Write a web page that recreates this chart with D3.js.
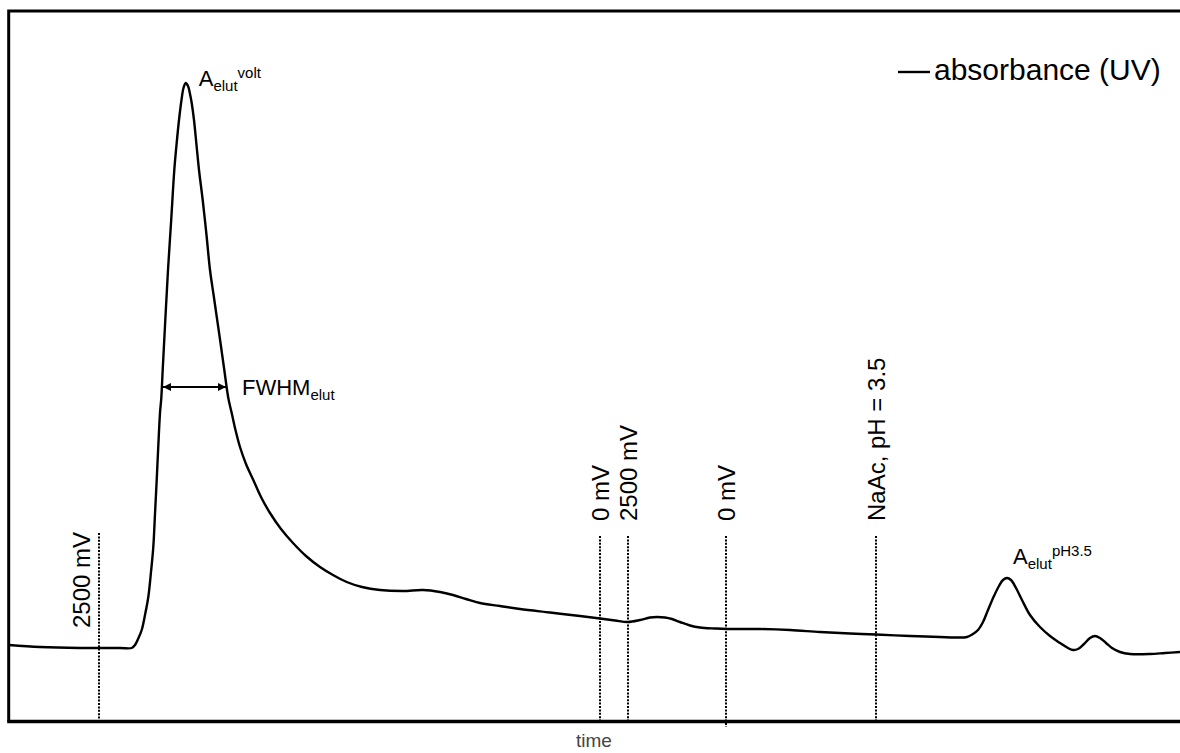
<!DOCTYPE html>
<html>
<head>
<meta charset="utf-8">
<script src="https://cdn.jsdelivr.net/npm/d3@7"></script>
<style>
  html, body { margin: 0; padding: 0; background: #fff; }
  svg { display: block; }
  text { font-family: "Liberation Sans", Arial, sans-serif; fill: #000; }
</style>
</head>
<body>
<svg id="chart" width="1180" height="753"></svg>
<script>
// ---- data (arbitrary time units / absorbance units) ----
const time = [0,31,71,111,122.7,126,129.5,132.7,136,139.3,142,144.3,146,147.7,149.3,151,152.3,153.7,156.3,159,162.2,165.3,167.5,170,172.5,174.5,176.7,
  179,181,182.7,185,187.5,190,193.7,197.5,201,204.6,208.2,211.8,215.3,219.3,222.7,226.5,231,237,244.3,252,261,272,284,297,311,324,337.7,353,371,394,414,431,444,457,471,491,511,541,571,591,606,619,631,641,648,656,663,671,681,691,706,718,751,781,811,841,867,901,931,946,958,964,969,974,979,985,990,994,998,1002,1007,1013,1021,1031,1041,1051,1059,1064,1069,1075,1081,1086,1091,1097,1103,1111,1121,1141,1156,1171];
const absorbance = [3,1,0,0,0,3,10,18,33,51,76,101,134,168,202,235,250,278,328,378,428,478,503,528,548,560,565,
  562,554,545,528,503,478,448,413,378,353,328,303,278,250,235,218,201,184,168,151,135,119,105,92,81,73,66,61,58,57,58,56,53,49,45,42,39,35.5,32,29.5,27.5,26,28,30.5,31,30.5,29,26,22.5,20.5,19.5,19,19,18,16,14.5,13.5,12,11,10.5,11,14,18,26,38,52,62,68,70,68,60,48,33,21,12,5,0,-2,-1,4,10,12,10,5,0,-4,-6,-6,-5,-4];

const eventTimes  = [90, 591, 619, 717, 867];
const eventLabels = ["2500 mV", "0 mV", "2500 mV", "0 mV", "NaAc, pH = 3.5"];

const legendLabel = "absorbance (UV)";
const axisLabel = "time";

// peak annotations (data coordinates)
const peakElut  = { t: 176.7, a: 565 };
const peakPH    = { t: 998,   a: 70 };
const fwhm      = { a: 261, t0: 154, t1: 217 };

// ---- layout ----
const W = 1180, H = 753;
const plotLeft = 8.7, plotTop = 11, plotBottom = 721.5;

const svg = d3.select("#chart");

const x = d3.scaleLinear().domain([0, 1171]).range([9, 1180]);
const y = d3.scaleLinear().domain([-10, 575]).range([658, 73]);

// arrow markers
const defs = svg.append("defs");
defs.append("marker").attr("id", "arrEnd")
  .attr("viewBox", "0 0 10 10").attr("refX", 10).attr("refY", 5)
  .attr("markerWidth", 9).attr("markerHeight", 8).attr("markerUnits", "userSpaceOnUse")
  .attr("orient", "auto")
  .append("path").attr("d", "M0,0 L10,5 L0,10 Z").attr("fill", "#000");
defs.append("marker").attr("id", "arrStart")
  .attr("viewBox", "0 0 10 10").attr("refX", 0).attr("refY", 5)
  .attr("markerWidth", 9).attr("markerHeight", 8).attr("markerUnits", "userSpaceOnUse")
  .attr("orient", "auto")
  .append("path").attr("d", "M10,0 L0,5 L10,10 Z").attr("fill", "#000");

// event dotted lines
const ev = svg.append("g");
eventTimes.forEach((t, i) => {
  ev.append("line")
    .attr("x1", x(t)).attr("x2", x(t))
    .attr("y1", i === 0 ? 533 : 536).attr("y2", i === 3 ? 727 : plotBottom)
    .attr("stroke", "#000").attr("stroke-width", 2).attr("stroke-dasharray", "2,1.4");
  const left = i === 0;
  ev.append("text")
    .attr("transform", left
      ? `translate(${x(t) - 9},532) rotate(-90)`
      : `translate(${x(t) + 9},521) rotate(-90)`)
    .attr("text-anchor", left ? "end" : "start")
    .attr("font-size", 24)
    .text(eventLabels[i]);
});

// curve
const data = time.map((t, i) => ({ t, a: absorbance[i] }));
const line = d3.line().x(d => x(d.t)).y(d => y(d.a)).curve(d3.curveCatmullRom.alpha(0.5));
svg.append("path").datum(data)
  .attr("d", line)
  .attr("fill", "none").attr("stroke", "#000").attr("stroke-width", 2.4)
  .attr("stroke-linejoin", "round");

// frame: left and top
svg.append("path")
  .attr("d", `M${W},${plotTop} H${plotLeft} V${plotBottom}`)
  .attr("fill", "none").attr("stroke", "#000").attr("stroke-width", 3);

// bottom axis (no ticks)
const xAxis = d3.axisBottom(x).tickValues([]).tickSizeOuter(0);
const gx = svg.append("g").attr("transform", `translate(0,${plotBottom})`).call(xAxis);
gx.select(".domain").attr("stroke", "#000").attr("stroke-width", 3.6)
  .attr("d", `M${plotLeft - 1.5},0H${W}`);

svg.append("text")
  .attr("x", 594).attr("y", 747)
  .attr("text-anchor", "middle").attr("font-size", 19)
  .style("fill", "#444")
  .text(axisLabel);

// legend
svg.append("line").attr("x1", 898).attr("x2", 930).attr("y1", 72).attr("y2", 72)
  .attr("stroke", "#000").attr("stroke-width", 2.4);
svg.append("text").attr("x", 934).attr("y", 80).attr("font-size", 30).text(legendLabel);

// peak labels
function peakLabel(px, py, sup) {
  const t = svg.append("text").attr("x", px).attr("y", py);
  t.append("tspan").attr("font-size", 22).text("A");
  t.append("tspan").attr("font-size", 15).attr("dy", 5).text("elut");
  t.append("tspan").attr("font-size", 15).attr("dy", -13).text(sup);
}
peakLabel(x(peakElut.t) + 13, y(peakElut.a) + 3, "volt");
peakLabel(x(peakPH.t) + 6, y(peakPH.a) - 14, "pH3.5");

// FWHM arrow
svg.append("line")
  .attr("x1", x(fwhm.t0)).attr("x2", x(fwhm.t1))
  .attr("y1", y(fwhm.a)).attr("y2", y(fwhm.a))
  .attr("stroke", "#000").attr("stroke-width", 2)
  .attr("marker-start", "url(#arrStart)").attr("marker-end", "url(#arrEnd)");
const ft = svg.append("text").attr("x", x(fwhm.t1) + 16).attr("y", y(fwhm.a) + 8);
ft.append("tspan").attr("font-size", 22).text("FWHM");
ft.append("tspan").attr("font-size", 15).attr("dy", 5).text("elut");
</script>
</body>
</html>
